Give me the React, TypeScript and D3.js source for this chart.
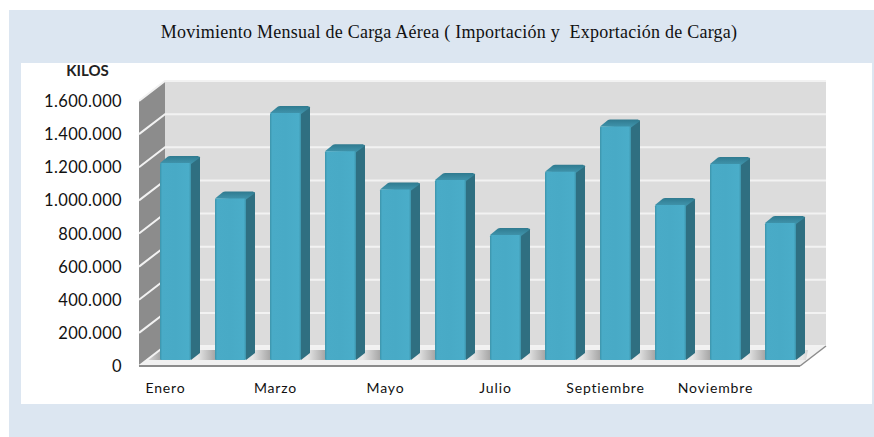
import React from "react";
import * as d3 from "d3";

const title = "Movimiento Mensual de Carga Aérea ( Importación y  Exportación de Carga)";
const unitLabel = "KILOS";
const months = ["Enero","Febrero","Marzo","Abril","Mayo","Junio","Julio","Agosto","Septiembre","Octubre","Noviembre","Diciembre"];
const visibleMonths = ["Enero","Marzo","Mayo","Julio","Septiembre","Noviembre"];
const kilos = [1190000,975000,1492000,1260000,1030000,1087000,755000,1137000,1410000,936000,1184000,827000];
const ticks = [0,200000,400000,600000,800000,1000000,1200000,1400000,1600000];

const fmt = (v: number) => String(v).replace(/\B(?=(\d{3})+$)/g, ".");

const W = 874, H = 437;
const depthX = 26, depthY = 20;
const frontLeft = 139, frontRight = 800, frontBase = 366, frontTop = 101;
const barBase = 360, barW = 31, barDX = 9, barDY = 7;

export default function App() {
  const yFront = d3.scaleLinear().domain([0, 1600000]).range([frontBase, frontTop]);
  const yBar = d3.scaleLinear().domain([0, 1600000]).range([barBase, barBase - (frontBase - frontTop)]);
  const x = d3.scaleBand<string>().domain(months).range([148, 808]).paddingInner(24 / 55).paddingOuter(12 / 55);
  const font = "Lato, 'Open Sans', sans-serif";
  const floorPts = `${frontLeft},${frontBase} ${frontLeft + depthX},${frontBase - depthY} ${frontRight + depthX},${frontBase - depthY} ${frontRight},${frontBase}`;
  return (
    <svg width={W} height={H} style={{ position: "absolute", left: 0, top: 0 }}>
      <defs>
        <linearGradient id="front" x1="0" x2="1" y1="0" y2="0">
          <stop offset="0" stopColor="#3c93aa" />
          <stop offset="0.07" stopColor="#49abc7" />
          <stop offset="0.5" stopColor="#48aac6" />
          <stop offset="0.93" stopColor="#4aadc9" />
          <stop offset="1" stopColor="#3c93aa" />
        </linearGradient>
        <linearGradient id="topFace" x1="0" x2="0" y1="0" y2="1">
          <stop offset="0" stopColor="#2f7a8f" />
          <stop offset="0.6" stopColor="#3a8ba2" />
          <stop offset="1" stopColor="#4095ad" />
        </linearGradient>
        <linearGradient id="floorShade" gradientUnits="userSpaceOnUse" x1={191} x2={246} y1={0} y2={0} spreadMethod="repeat">
          <stop offset="0.12" stopColor="#e6e6e6" />
          <stop offset="0.44" stopColor="#a6a6a6" />
          <stop offset="0.5" stopColor="#a6a6a6" />
          <stop offset="1" stopColor="#e6e6e6" />
        </linearGradient>
      </defs>
      <rect x={9} y={10} width={W - 9} height={H - 10} fill="#dce6f1" />
      <rect x={21} y={63} width={851} height={341} fill="#ffffff" />
      <text x={449} y={38} textAnchor="middle" fontFamily="'Liberation Serif', serif" fontSize={18} letterSpacing={0.25} fill="#111" xmlSpace="preserve">{title}</text>
      <text x={87.5} y={76} textAnchor="middle" fontFamily={font} fontWeight={700} fontSize={15} fill="#222">{unitLabel}</text>

      <rect x={frontLeft + depthX} y={frontTop - depthY} width={frontRight - frontLeft} height={frontBase - frontTop} fill="#dcdcdc" />
      <polygon
        points={`${frontLeft},${frontTop} ${frontLeft + depthX},${frontTop - depthY} ${frontLeft + depthX},${frontBase - depthY} ${frontLeft},${frontBase}`}
        fill="#8c8c8c"
      />
      <polygon points={floorPts} fill="#f1f1f1" />
      <polygon
        points={`${frontLeft + 8},${barBase} ${frontLeft + 21},${barBase - 10} ${frontRight + 8},${barBase - 10} ${frontRight + 6},${barBase}`}
        fill="url(#floorShade)"
      />
      {ticks.map((t) => (
        <g key={t}>
          <polyline
            points={`${frontLeft},${yFront(t)} ${frontLeft + depthX},${yFront(t) - depthY} ${frontRight + depthX},${yFront(t) - depthY}`}
            fill="none"
            stroke="#f2f2f2"
            strokeWidth={2}
          />
          <text x={122} y={yFront(t) + 6} textAnchor="end" fontFamily={font} fontSize={16.5} letterSpacing={0.35} fill="#111">{fmt(t)}</text>
        </g>
      ))}
      <line x1={frontLeft} x2={frontRight} y1={frontBase} y2={frontBase} stroke="#8c8c8c" strokeWidth={2} />
      <line x1={frontRight} x2={frontRight + depthX} y1={frontBase} y2={frontBase - depthY} stroke="#8c8c8c" strokeWidth={1.5} />

      {months.map((m, i) => {
        const bx = (x(m) as number) + (x.bandwidth() - barW) / 2;
        const top = yBar(kilos[i]);
        return (
          <g key={m}>
            <polygon
              points={`${bx + barW},${top} ${bx + barW + barDX - 0.5},${top - barDY + 0.5} ${bx + barW + barDX},${top - barDY + 1.5} ${bx + barW + barDX},${barBase - barDY} ${bx + barW},${barBase}`}
              fill="#2f6f81"
            />
            <polygon
              points={`${bx},${top} ${bx + barDX - 1},${top - barDY + 0.5} ${bx + barDX + 1},${top - barDY} ${bx + barW + barDX - 2},${top - barDY} ${bx + barW + barDX},${top - barDY + 1.5} ${bx + barW},${top + 1}`}
              fill="url(#topFace)"
            />
            <rect x={bx} y={top} width={barW} height={barBase - top} rx={1.2} fill="url(#front)" />
          </g>
        );
      })}

      {visibleMonths.map((m) => (
        <text key={m} x={(x(m) as number) + x.bandwidth() / 2 - 10} y={393} textAnchor="middle" fontFamily={font} fontSize={14} letterSpacing={0.85} fill="#111">{m}</text>
      ))}
    </svg>
  );
}
